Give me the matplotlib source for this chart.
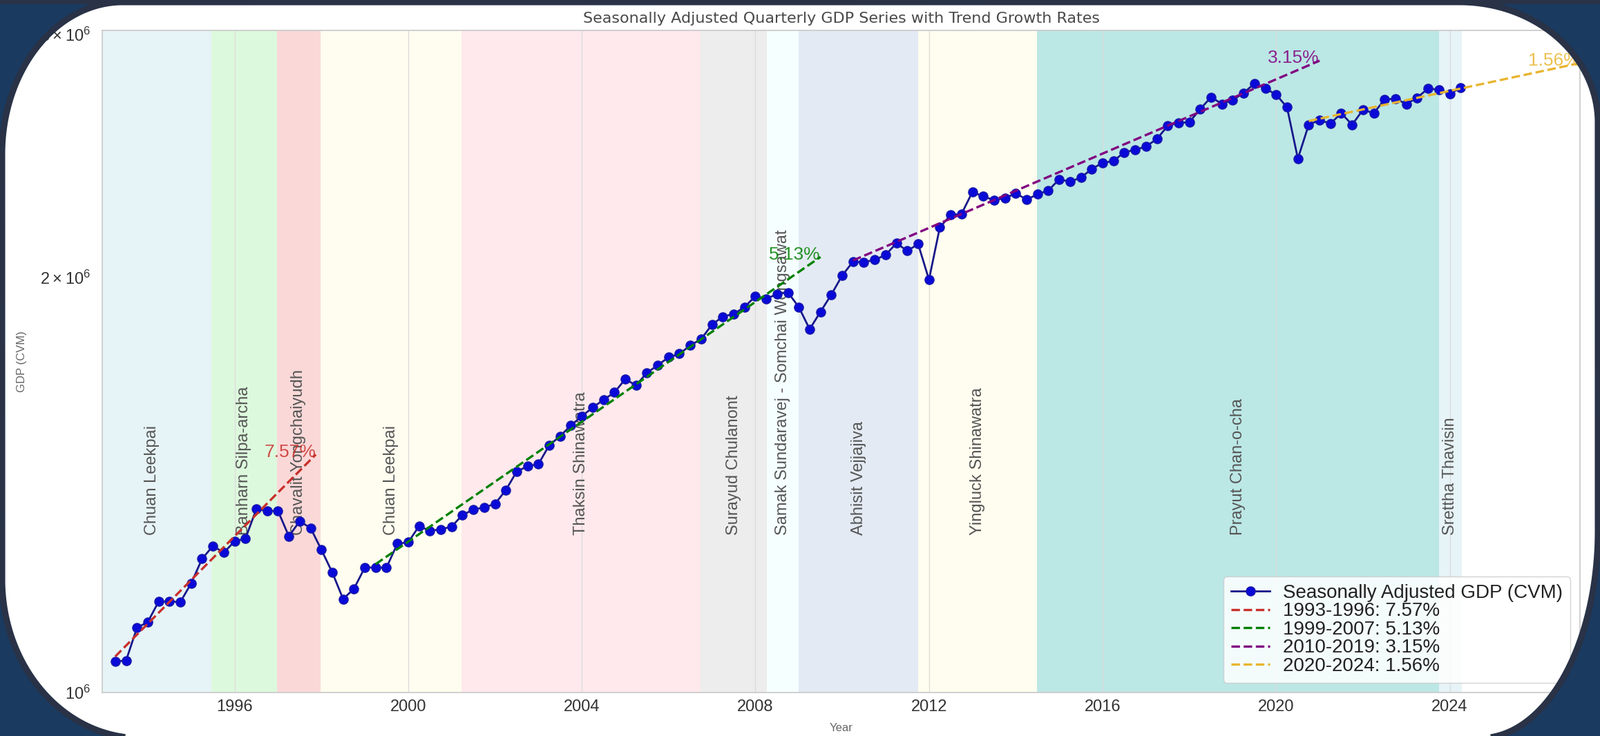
import numpy as np
import pandas as pd
import matplotlib
matplotlib.use('Agg')
import matplotlib.pyplot as plt
from matplotlib.path import Path
from matplotlib.patches import PathPatch

plt.rcParams['font.family'] = ['Liberation Sans', 'DejaVu Sans']
plt.rcParams['mathtext.default'] = 'regular'

# Seasonally adjusted quarterly GDP, chain volume measures (1993Q1 - 2024Q1)
quarters = pd.period_range('1993Q1', '2024Q1', freq='Q')
gdp = [
    1053000, 1055000, 1114000, 1125000,   # 1993
    1164000, 1164000, 1163000, 1200000,   # 1994
    1250000, 1277000, 1263000, 1287000,   # 1995
    1293000, 1358000, 1354000, 1354000,   # 1996
    1298000, 1331000, 1316000, 1269000,   # 1997
    1222000, 1169000, 1189000, 1232000,   # 1998
    1232000, 1232000, 1282000, 1285000,   # 1999
    1320000, 1310000, 1313000, 1319000,   # 2000
    1345000, 1357000, 1362000, 1370000,   # 2001
    1402000, 1446000, 1459000, 1464000,   # 2002
    1511000, 1534000, 1562000, 1586000,   # 2003
    1609000, 1630000, 1650000, 1687000,   # 2004
    1670000, 1705000, 1727000, 1750000,   # 2005
    1760000, 1785000, 1804000, 1848000,   # 2006
    1873000, 1881000, 1903000, 1938000,   # 2007
    1929000, 1945000, 1950000, 1903000,   # 2008
    1834000, 1888000, 1943000, 2006000,   # 2009
    2053000, 2051000, 2059000, 2076000,   # 2010
    2117000, 2090000, 2114000, 1992000,   # 2011
    2174000, 2219000, 2223000, 2306000,   # 2012
    2289000, 2275000, 2282000, 2301000,   # 2013
    2277000, 2297000, 2312000, 2355000,   # 2014
    2346000, 2362000, 2396000, 2421000,   # 2015
    2428000, 2464000, 2474000, 2488000,   # 2016
    2519000, 2575000, 2588000, 2591000,   # 2017
    2648000, 2702000, 2671000, 2689000,   # 2018
    2720000, 2764000, 2741000, 2713000,   # 2019
    2656000, 2438000, 2580000, 2600000,   # 2020
    2585000, 2630000, 2580000, 2645000,   # 2021
    2630000, 2692000, 2694000, 2671000,   # 2022
    2699000, 2741000, 2735000, 2716000,   # 2023
    2744000,                              # 2024
]

# Prime ministers' terms (decimal years)
pm_names = ['Chuan Leekpai', 'Banharn Silpa-archa', 'Chavalit Yongchaiyudh', 'Chuan Leekpai',
            'Thaksin Shinawatra', 'Surayud Chulanont', 'Samak Sundaravej - Somchai Wongsawat',
            'Abhisit Vejjajiva', 'Yingluck Shinawatra', 'Prayut Chan-o-cha', 'Srettha Thavisin']
pm_start = [1992.73, 1995.46, 1996.97, 1997.98, 2001.22, 2006.73, 2008.27, 2009.00, 2011.75, 2014.48, 2023.75]
pm_end = [1995.46, 1996.97, 1997.98, 2001.22, 2006.73, 2008.27, 2009.00, 2011.75, 2014.48, 2023.75, 2024.27]
pm_colors = ['lightblue', 'lightgreen', 'lightcoral', 'lemonchiffon', 'pink', 'lightgray',
             'lightcyan', 'lightsteelblue', 'lemonchiffon', 'lightseagreen', 'lightblue']
pm_alpha = [0.3, 0.3, 0.3, 0.3, 0.35, 0.4, 0.3, 0.35, 0.3, 0.3, 0.3]

# Trend growth rates
trend_periods = ['1993-1996', '1999-2007', '2010-2019', '2020-2024']
trend_rates = [7.57, 5.13, 3.15, 1.56]
trend_start = [1993.25, 1999.25, 2010.25, 2020.75]
trend_end = [1997.87, 2009.5, 2021.0, 2027.0]
trend_base = [1062000, 1239000, 2057000, 2596000]
trend_colors = ['#c8302c', 'green', 'purple', '#e8b530']

x = quarters.year + quarters.quarter * 0.25

W, H = 2316, 1066
fig = plt.figure(figsize=(W / 100, H / 100), dpi=100, facecolor='white')
ax = fig.add_axes([148 / W, 1 - 1003 / H, (2287 - 148) / W, (1003 - 44) / H])
ax.set_facecolor('white')

# PM bands
for name, s, e, c, a in zip(pm_names, pm_start, pm_end, pm_colors, pm_alpha):
    ax.axvspan(s, e, color=c, alpha=a, lw=0, zorder=0.2)
    ax.text((s + e) / 2, 1.3e6, name, rotation=90, ha='center', va='bottom',
            fontsize=17, color='#555555', zorder=3)

ax.plot(x, gdp, '-o', color='#17178a', lw=2, ms=9.5, mfc='#0a0ad8', mec='#1a1aa8',
        label='Seasonally Adjusted GDP (CVM)', zorder=4)

for per, r, s, e, b, c in zip(trend_periods, trend_rates, trend_start, trend_end, trend_base, trend_colors):
    t = np.linspace(s, e, 50)
    y = b * (1 + r / 100) ** (t - s)
    ax.plot(t, y, '--', color=c, lw=2.4, label=f'{per}: {r:.2f}%', zorder=5)
    ax.text(t[-1], y[-1] * 1.004, f'{r:.2f}%', ha='right', va='center', fontsize=19,
            color=c, alpha=0.85, zorder=6)

ax.set_yscale('log')
ax.set_xlim(1992.95, 2027.0)
ax.set_ylim(1e6, 3.02e6)
ax.set_xticks([1996, 2000, 2004, 2008, 2012, 2016, 2020, 2024])
ax.grid(True, which='major', color='#dcdcdc', lw=1, zorder=0.5)
ax.set_axisbelow(True)
ax.tick_params(axis='both', which='both', length=0, labelsize=17, labelcolor='#333333')
ax.tick_params(axis='x', which='both', pad=7)
ax.tick_params(axis='y', which='both', pad=12)
for sp in ax.spines.values():
    sp.set_color('#cccccc')
    sp.set_linewidth(1.3)

ax.set_title('Seasonally Adjusted Quarterly GDP Series with Trend Growth Rates',
             fontsize=16, color='#4a4a4a', family='DejaVu Sans', pad=8)
ax.set_xlabel('Year', fontsize=12, color='#666666')
ax.xaxis.set_label_coords(0.5, -0.046)
ax.set_ylabel('GDP (CVM)', fontsize=12, color='#666666')
ax.yaxis.set_label_coords(-0.051, 0.5)

leg = ax.legend(loc='lower right', fontsize=20, labelspacing=0.02, frameon=True,
                fancybox=True, framealpha=0.85, borderpad=0.4, handlelength=2.0,
                handletextpad=0.7)
leg.get_frame().set_edgecolor('#cccccc')
for t in leg.get_texts():
    t.set_color('#222222')

# screenshot frame: rounded white card on a dark background
ov = fig.add_axes([0, 0, 1, 1], zorder=10)
ov.set_xlim(0, W)
ov.set_ylim(0, H)
ov.axis('off')
ov.patch.set_alpha(0)


def rounded_card(x0, y0, x1, y1, corners, n=60):
    # corners: (rx, ry) for bottom-right, top-right, top-left, bottom-left
    (brx, bry), (trx, try_), (tlx, tly), (blx, bly) = corners
    pts = []
    for cx, cy, rx, ry, a0, a1 in [(x1 - brx, y0 + bry, brx, bry, -90, 0),
                                   (x1 - trx, y1 - try_, trx, try_, 0, 90),
                                   (x0 + tlx, y1 - tly, tlx, tly, 90, 180),
                                   (x0 + blx, y0 + bly, blx, bly, 180, 270)]:
        a = np.radians(np.linspace(a0, a1, n))
        pts.extend(zip(cx + rx * np.cos(a), cy + ry * np.sin(a)))
    return np.array(pts)


card = rounded_card(3, -3, 2313, 1063, [(170, 300), (200, 175), (175, 220), (200, 230)])
outer = np.array([[0, 0], [W, 0], [W, H], [0, H], [0, 0]])
inner = card[::-1]
verts = np.vstack([outer, inner, inner[:1]])
codes = ([Path.MOVETO] + [Path.LINETO] * 3 + [Path.CLOSEPOLY] +
         [Path.MOVETO] + [Path.LINETO] * (len(inner) - 1) + [Path.CLOSEPOLY])
ov.add_patch(PathPatch(Path(verts, codes), facecolor='#1a3a60', edgecolor='none'))
ring = np.vstack([card, card[:1]])
ov.plot(ring[:, 0], ring[:, 1], color='#293246', lw=6.5, solid_joinstyle='round')
ov.plot([0, W], [H, H], color='#293246', lw=8)

fig.savefig('out.png', dpi=100)
